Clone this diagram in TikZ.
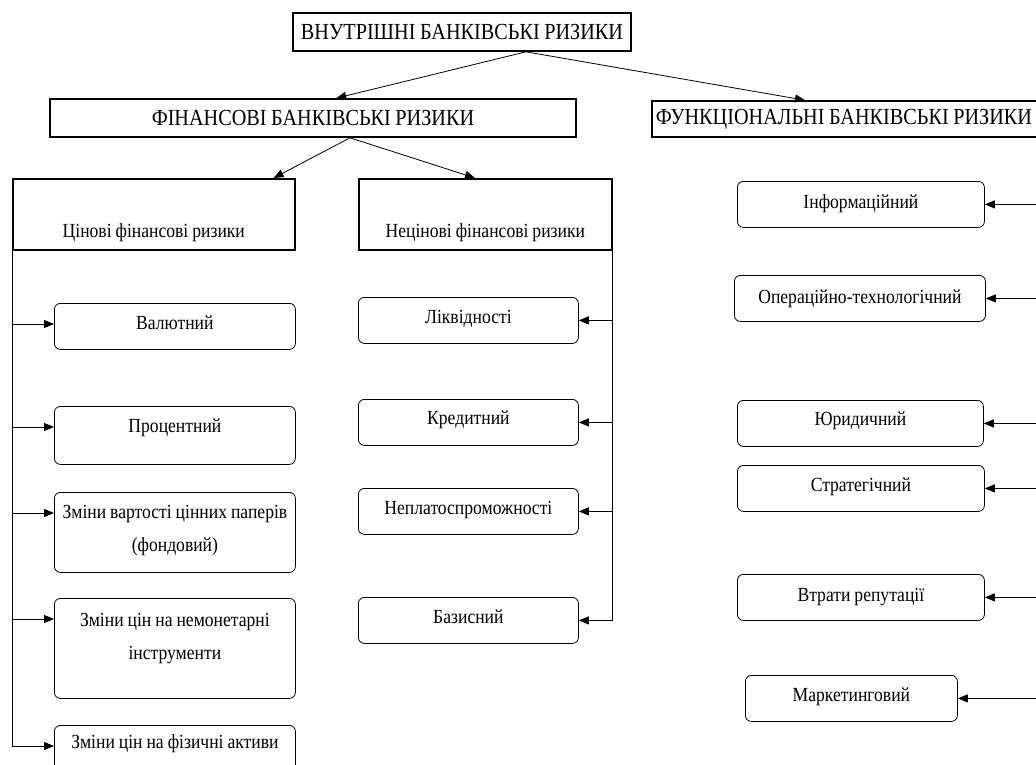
\documentclass[tikz,border=0pt]{standalone}
\usepackage{fontspec}
\setmainfont{Liberation Serif}[FakeStretch=0.88, WordSpace=0.9]
\usetikzlibrary{arrows.meta,positioning,calc}
\newcommand{\headfont}{\fontsize{23}{27}\selectfont}
\newcommand{\riskfont}{\fontsize{20}{33}\selectfont}

\begin{document}
\begin{tikzpicture}[x=1pt, y=-1pt, >={Triangle[length=10pt,width=8pt]}, line/.style={draw=black, line width=0.8pt}]
% Define styles for headings, groups, risk boxes and their texts
\tikzstyle{head} = [draw, rectangle, line width=1.6pt, inner sep=0pt, font=\headfont]
\tikzstyle{group} = [draw, rectangle, line width=1.6pt, anchor=north west, inner sep=0pt]
\tikzstyle{risk} = [draw, rectangle, rounded corners=6pt, line width=0.8pt, anchor=north west, inner sep=0pt, minimum height=46pt]
\tikzstyle{risktext} = [font=\riskfont, align=flush center, text width=250pt, inner sep=0pt, anchor=base]

\useasboundingbox (0,0) rectangle (1036,764);

% Headings
\node [head, minimum width=338pt, minimum height=38pt] (inner) at (462,32) {ВНУТРІШНІ БАНКІВСЬКІ РИЗИКИ};
\node [head, minimum width=526pt, minimum height=38pt] (fin) at (313,118) {ФІНАНСОВІ БАНКІВСЬКІ РИЗИКИ};
\node [head, anchor=west, minimum width=400pt, minimum height=36pt, text width=392pt, inner xsep=4pt, align=flush left] (func) at (651,119) {ФУНКЦІОНАЛЬНІ БАНКІВСЬКІ РИЗИКИ};

% Groups of financial risks
\node [group, minimum width=282pt, minimum height=71pt] (price) at (12,178) {};
\node [risktext] (pricet) at ($(price.south)+(0,-13)$) {Цінові фінансові ризики};
\node [group, minimum width=253pt, minimum height=71pt] (nonprice) at (358,178) {};
\node [risktext] (nonpricet) at ($(nonprice.south)+(0,-13)$) {Нецінові фінансові ризики};

% Price risks
\node [risk, minimum width=241pt] (val) at (54,303) {};
\node [risk, minimum width=241pt, minimum height=58pt] (proc) at (54,406) {};
\node [risk, minimum width=241pt, minimum height=80pt] (zmin1) at (54,492) {};
\node [risk, minimum width=241pt, minimum height=100pt] (zmin2) at (54,598) {};
\node [risk, minimum width=241pt] (fiz) at (54,725) {};
\node [risktext] (valt) at ($(val.north)+(0,26)$) {Валютний};
\node [risktext] (proct) at ($(proc.north)+(0,26)$) {Процентний};
\node [risktext] (zmin1t) at ($(zmin1.north)+(0,26)$) {Зміни вартості цінних паперів\\(фондовий)};
\node [risktext] (zmin2t) at ($(zmin2.north)+(0,28)$) {Зміни цін на немонетарні\\інструменти};
\node [risktext] (fizt) at ($(fiz.north)+(0,23)$) {Зміни цін на фізичні активи};

% Non-price risks
\node [risk, minimum width=220pt] (likv) at (358,297) {};
\node [risk, minimum width=220pt] (kred) at (358,399) {};
\node [risk, minimum width=220pt] (neplat) at (358,488) {};
\node [risk, minimum width=220pt] (baz) at (358,597) {};
\node [risktext] (likvt) at ($(likv.north)+(0,26)$) {Ліквідності};
\node [risktext] (kredt) at ($(kred.north)+(0,25)$) {Кредитний};
\node [risktext] (neplatt) at ($(neplat.north)+(0,26)$) {Неплатоспроможності};
\node [risktext] (bazt) at ($(baz.north)+(0,26)$) {Базисний};

% Functional risks
\node [risk, minimum width=247pt] (inf) at (737,181) {};
\node [risk, minimum width=251pt] (oper) at (734,275) {};
\node [risk, minimum width=246pt] (yur) at (737,400) {};
\node [risk, minimum width=247pt] (strat) at (737,465) {};
\node [risk, minimum width=247pt] (vtr) at (737,574) {};
\node [risk, minimum width=212pt] (mark) at (745,675) {};
\node [risktext] (inft) at ($(inf.north)+(0,27)$) {Інформаційний};
\node [risktext] (opert) at ($(oper.north)+(0,28)$) {Операційно-технологічний};
\node [risktext] (yurt) at ($(yur.north)+(0,25)$) {Юридичний};
\node [risktext] (stratt) at ($(strat.north)+(0,26)$) {Стратегічний};
\node [risktext] (vtrt) at ($(vtr.north)+(0,27)$) {Втрати репутації};
\node [risktext] (markt) at ($(mark.north)+(0,26)$) {Маркетинговий};
\coordinate (edge) at (1040,0);

% Draw edges
\draw [line,->] ($(inner.south)+(64,0)$) -- ($(fin.north west)+(287,0)$);
\draw [line,->] ($(inner.south)+(64,0)$) -- ($(func.north west)+(154,0)$);
\draw [line,->] ($(fin.south)+(37,0)$) -- ($(price.north east)+(-22,0)$);
\draw [line,->] ($(fin.south)+(37,0)$) -- ($(nonprice.north west)+(117,0)$);

% Left branch
\foreach \b in {val,proc,zmin1,zmin2,fiz}
  \coordinate (\b-in) at ($(\b.north west)+(0,21)$);
\draw [line] (price.south west) -- (price.south west |- fiz-in);
\foreach \b in {val,proc,zmin1,zmin2,fiz}
  \draw [line,->] (price.south west |- \b-in) -- (\b-in);

% Right branch
\draw [line] (nonprice.south east) -- (nonprice.south east |- baz.east);
\foreach \b in {likv,kred,neplat,baz}
  \draw [line,->] (nonprice.south east |- \b.east) -- (\b.east);

% Functional branch
\foreach \b in {inf,oper,yur,strat,vtr,mark}
  \draw [line,->] (edge |- \b.east) -- (\b.east);
\end{tikzpicture}
\end{document}
